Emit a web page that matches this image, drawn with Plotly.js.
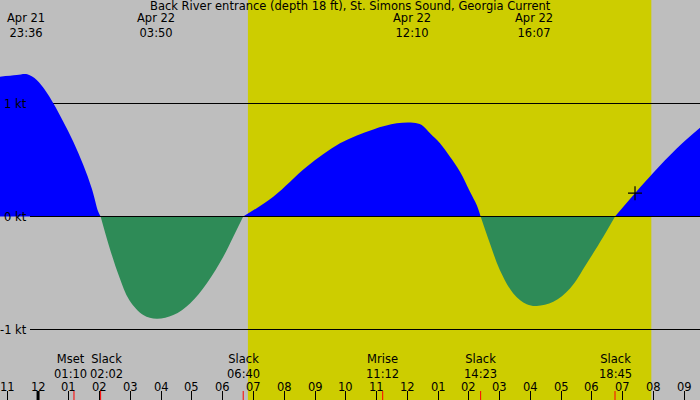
<!DOCTYPE html>
<html>
<head>
<meta charset="utf-8">
<script src="https://cdn.plot.ly/plotly-3.0.1.min.js"></script>
<style>
  html, body { margin: 0; padding: 0; background: #bebebe; }
  #chart { width: 700px; height: 400px; }
</style>
</head>
<body>
<div id="chart"></div>
<script>
/*
   Tidal current at Back River entrance, Apr 21 23:00 to Apr 22 21:30.
   Time is in hours from Apr 22 00:00, speed in knots (+ flood, - ebb).
*/
var hours = [-1.237, -0.695, -0.35, -0.044, 0.225, 0.495, 0.82, 1.145, 1.47, 1.743, 1.957, 2.033,
             2.313, 2.638, 2.963, 3.42, 3.855, 4.395, 4.938, 5.48, 6.02, 6.345, 6.667,
             7.645, 8.73, 9.812, 10.895, 11.655, 12.195, 12.468, 12.738, 13.062, 13.387, 13.712, 14.037, 14.255, 14.383,
             14.685, 15.01, 15.445, 15.88, 16.205, 16.745, 17.287, 17.83, 18.37, 18.75,
             19.4, 19.995, 20.755, 21.512];
var knots = [1.237, 1.252, 1.258, 1.208, 1.119, 1.002, 0.839, 0.662, 0.456, 0.25, 0.042, 0,
             -0.267, -0.533, -0.739, -0.872, -0.905, -0.872, -0.769, -0.592, -0.356, -0.179, 0,
             0.175, 0.44, 0.648, 0.771, 0.825, 0.83, 0.81, 0.736, 0.648, 0.529, 0.396, 0.219, 0.101, 0,
             -0.239, -0.475, -0.681, -0.776, -0.791, -0.755, -0.637, -0.416, -0.179, 0,
             0.206, 0.387, 0.602, 0.785];

var peakHours = [-0.4, 3.833, 12.167, 16.117];
var peakDates = ['Apr 21', 'Apr 22', 'Apr 22', 'Apr 22'];
var peakTimes = ['23:36', '03:50', '12:10', '16:07'];

var eventHours = [1.167, 2.033, 6.667, 11.2, 14.383, 18.75];
var eventNames = ['Mset', 'Slack', 'Slack', 'Mrise', 'Slack', 'Slack'];
var eventTimes = ['01:10', '02:02', '06:40', '11:12', '14:23', '18:45'];

var sunrise = 6.82;
var sunset = 19.93;

var hourTicks = [-1, 0, 1, 2, 3, 4, 5, 6, 7, 8, 9, 10, 11, 12, 13, 14, 15, 16, 17, 18, 19, 20, 21];
var hourLabels = ['11', '12', '01', '02', '03', '04', '05', '06', '07', '08', '09', '10',
                  '11', '12', '01', '02', '03', '04', '05', '06', '07', '08', '09'];

var levels = [1, 0, -1];
var levelLabels = ['1 kt', '0 kt', '-1 kt'];

var nowHour = 19.4;
var nowKnots = 0.206;

var title = 'Back River entrance (depth 18 ft), St. Simons Sound, Georgia Current';

// layout helpers (pixel placement only)
var H = 400, W = 700;
var ZERO_PX = 216.5, PX_PER_KT = 113;
function py(px) { return 1 - px / H; }
var font = {family: 'DejaVu Sans', size: 11.5, color: '#000'};
var labelNudge = [-3, 6, 0, 0, 0, 0];

// split into flood and ebb runs; the slack points (0) belong to both
var flood = knots.map(function (v) { return v >= 0 ? v : null; });
var ebb = knots.map(function (v) { return v <= 0 ? v : null; });

var floodTrace = {x: hours, y: flood, type: 'scatter', mode: 'lines', connectgaps: false,
                  line: {width: 0, shape: 'spline', smoothing: 1},
                  fill: 'tozeroy', fillcolor: '#0000ff', hoverinfo: 'skip', showlegend: false};
var ebbTrace = {x: hours, y: ebb, type: 'scatter', mode: 'lines', connectgaps: false,
                line: {width: 0, shape: 'spline', smoothing: 1},
                fill: 'tozeroy', fillcolor: '#2e8b57', hoverinfo: 'skip', showlegend: false};
var nowTrace = {x: [nowHour], y: [nowKnots], type: 'scatter', mode: 'markers',
                marker: {symbol: 'cross-thin-open', size: 10, color: '#000', line: {color: '#000', width: 1.2}},
                hoverinfo: 'skip', showlegend: false};

var shapes = [{type: 'rect', xref: 'x', yref: 'paper', x0: sunrise, x1: sunset, y0: 0, y1: 1,
               fillcolor: '#cdcd00', line: {width: 0}, layer: 'below'}];
levels.forEach(function (lv) {
   shapes.push({type: 'line', xref: 'paper', yref: 'y', x0: 30 / W, x1: 1, y0: lv, y1: lv,
                line: {color: '#000', width: 1}, layer: lv === 0 ? 'above' : 'below'});
});
// midnight tick is heavier
shapes.push({type: 'line', xref: 'x', yref: 'paper', x0: 0, x1: 0, y0: 0, y1: 9 / H,
             line: {color: '#000', width: 3}});
eventHours.forEach(function (h) {
   shapes.push({type: 'line', xref: 'x', yref: 'paper', x0: h, x1: h, y0: 0, y1: 9 / H,
                line: {color: '#ff0000', width: 1}});
});

var annotations = [{text: title, xref: 'paper', yref: 'paper', x: 0.5, y: py(6.5), showarrow: false,
                    xanchor: 'center', yanchor: 'middle', borderpad: 0, font: font}];
function addText(txt, x, xref, ypx, xanchor, xshift) {
   annotations.push({text: txt, x: x, xref: xref, y: py(ypx), yref: 'paper', showarrow: false,
                     xanchor: xanchor || 'center', yanchor: 'middle', xshift: xshift || 0,
                     borderpad: 0, font: font});
}
for (var i = 0; i < peakHours.length; i++) {
   addText(peakDates[i] + '<br>' + peakTimes[i], peakHours[i], 'x', 25.5);
}
for (var i = 0; i < eventHours.length; i++) {
   addText(eventNames[i] + '<br>' + eventTimes[i], eventHours[i], 'x', 366, 'center', labelNudge[i]);
}
for (var i = 0; i < hourTicks.length; i++) {
   addText(hourLabels[i], hourTicks[i], 'x', 387);
}
for (var i = 0; i < levels.length; i++) {
   addText(levelLabels[i], 28 / W, 'paper', ZERO_PX - levels[i] * PX_PER_KT, 'right');
}

var layout = {
   width: W, height: H,
   margin: {l: 0, r: 0, t: 0, b: 0},
   paper_bgcolor: '#bebebe',
   plot_bgcolor: '#bebebe',
   xaxis: {range: [-1.237, 21.512], tickmode: 'array', tickvals: hourTicks,
           ticks: 'inside', ticklen: 9, tickwidth: 1, tickcolor: '#000',
           showticklabels: false, showgrid: false, zeroline: false, showline: false, fixedrange: true},
   yaxis: {range: [-(H - ZERO_PX) / PX_PER_KT, ZERO_PX / PX_PER_KT], visible: false,
           showgrid: false, zeroline: false, fixedrange: true},
   shapes: shapes,
   annotations: annotations,
   showlegend: false
};

var config = {staticPlot: true, displayModeBar: false};

Plotly.newPlot('chart', [floodTrace, ebbTrace, nowTrace], layout, config);
</script>
</body>
</html>
